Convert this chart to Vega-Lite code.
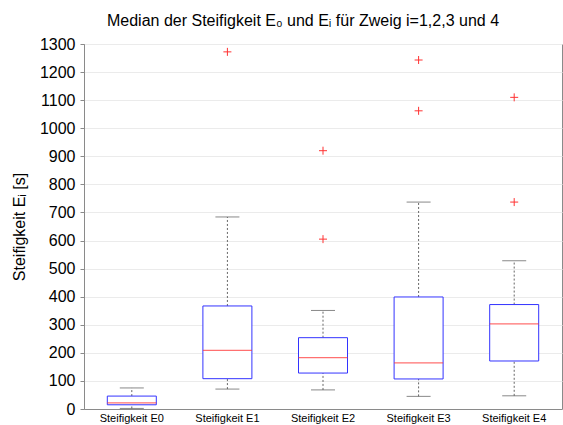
{
  "$schema": "https://vega.github.io/schema/vega-lite/v6.json",
  "width": 478,
  "height": 365,
  "autosize": {"type": "none"},
  "padding": {"left": 84, "top": 44, "right": 1, "bottom": 16},
  "background": "white",
  "title": {
    "text": "Median der Steifigkeit E₀ und Eᵢ für Zweig i=1,2,3 und 4",
    "font": "Liberation Sans",
    "fontSize": 16,
    "fontWeight": "normal",
    "color": "#000000",
    "offset": 7,
    "anchor": "middle",
    "dx": -20
  },
  "config": {
    "font": "Liberation Sans",
    "view": {"stroke": "#8a8a8a", "strokeWidth": 1},
    "axisY": {
      "title": "Steifigkeit Eᵢ [s]",
      "titleFontSize": 16,
      "titleFontWeight": "normal",
      "titleColor": "#000000",
      "titlePadding": 12,
      "tickCount": 14,
      "format": "d",
      "labelOverlap": false,
      "labelFontSize": 16,
      "labelColor": "#000000",
      "labelPadding": 5,
      "tickSize": 4,
      "tickColor": "#8a8a8a",
      "domainColor": "#8a8a8a",
      "grid": true,
      "gridColor": "#ebebeb",
      "gridWidth": 1
    }
  },
  "datasets": {
    "boxes": [
      {"cat": "Steifigkeit E0", "lo": 2, "q1": 15, "med": 22, "q3": 46, "hi": 75},
      {"cat": "Steifigkeit E1", "lo": 71, "q1": 108, "med": 209, "q3": 367, "hi": 684},
      {"cat": "Steifigkeit E2", "lo": 68, "q1": 128, "med": 183, "q3": 254, "hi": 351},
      {"cat": "Steifigkeit E3", "lo": 45, "q1": 107, "med": 164, "q3": 399, "hi": 737},
      {"cat": "Steifigkeit E4", "lo": 47, "q1": 171, "med": 303, "q3": 372, "hi": 528}
    ],
    "outliers": [
      {"cat": "Steifigkeit E1", "v": 1272},
      {"cat": "Steifigkeit E2", "v": 920},
      {"cat": "Steifigkeit E2", "v": 605},
      {"cat": "Steifigkeit E3", "v": 1243},
      {"cat": "Steifigkeit E3", "v": 1062},
      {"cat": "Steifigkeit E4", "v": 1110},
      {"cat": "Steifigkeit E4", "v": 737}
    ]
  },
  "encoding": {
    "x": {
      "field": "cat",
      "type": "nominal",
      "sort": null,
      "scale": {"paddingInner": 0, "paddingOuter": 0},
      "axis": {
        "title": null,
        "labelAngle": 0,
        "labelFontSize": 11,
        "labelColor": "#000000",
        "labelPadding": 3,
        "ticks": false,
        "domainColor": "#8a8a8a",
        "grid": false
      }
    }
  },
  "layer": [
    {
      "data": {"name": "boxes"},
      "mark": {"type": "rule", "strokeDash": [2, 2], "color": "#666666", "strokeWidth": 1},
      "encoding": {
        "y": {
          "field": "lo",
          "type": "quantitative",
          "scale": {"domain": [0, 1300], "nice": false},
          "axis": {"title": "Steifigkeit Eᵢ [s]", "values": [0, 100, 200, 300, 400, 500, 600, 700, 800, 900, 1000, 1100, 1200, 1300]}
        },
        "y2": {"field": "q1"}
      }
    },
    {
      "data": {"name": "boxes"},
      "mark": {"type": "rule", "strokeDash": [2, 2], "color": "#666666", "strokeWidth": 1},
      "encoding": {
        "y": {"field": "q3", "type": "quantitative", "axis": {"title": "Steifigkeit Eᵢ [s]", "values": [0, 100, 200, 300, 400, 500, 600, 700, 800, 900, 1000, 1100, 1200, 1300]}},
        "y2": {"field": "hi"}
      }
    },
    {
      "data": {"name": "boxes"},
      "mark": {"type": "tick", "size": 24, "thickness": 1, "color": "#555555"},
      "encoding": {"y": {"field": "lo", "type": "quantitative", "axis": {"title": "Steifigkeit Eᵢ [s]", "values": [0, 100, 200, 300, 400, 500, 600, 700, 800, 900, 1000, 1100, 1200, 1300]}}}
    },
    {
      "data": {"name": "boxes"},
      "mark": {"type": "tick", "size": 24, "thickness": 1, "color": "#555555"},
      "encoding": {"y": {"field": "hi", "type": "quantitative", "axis": {"title": "Steifigkeit Eᵢ [s]", "values": [0, 100, 200, 300, 400, 500, 600, 700, 800, 900, 1000, 1100, 1200, 1300]}}}
    },
    {
      "data": {"name": "boxes"},
      "mark": {"type": "bar", "size": 49, "fill": "white", "stroke": "#3333ff", "strokeWidth": 1},
      "encoding": {
        "y": {"field": "q1", "type": "quantitative", "axis": {"title": "Steifigkeit Eᵢ [s]", "values": [0, 100, 200, 300, 400, 500, 600, 700, 800, 900, 1000, 1100, 1200, 1300]}},
        "y2": {"field": "q3"}
      }
    },
    {
      "data": {"name": "boxes"},
      "mark": {"type": "tick", "size": 49, "thickness": 1.2, "color": "#ff3333"},
      "encoding": {"y": {"field": "med", "type": "quantitative", "axis": {"title": "Steifigkeit Eᵢ [s]", "values": [0, 100, 200, 300, 400, 500, 600, 700, 800, 900, 1000, 1100, 1200, 1300]}}}
    },
    {
      "data": {"name": "outliers"},
      "mark": {"type": "point", "shape": "M-1,0H1M0,-1V1", "size": 64, "filled": false, "stroke": "#ff3333", "strokeWidth": 1, "opacity": 1},
      "encoding": {"y": {"field": "v", "type": "quantitative", "axis": {"title": "Steifigkeit Eᵢ [s]", "values": [0, 100, 200, 300, 400, 500, 600, 700, 800, 900, 1000, 1100, 1200, 1300]}}}
    }
  ]
}
